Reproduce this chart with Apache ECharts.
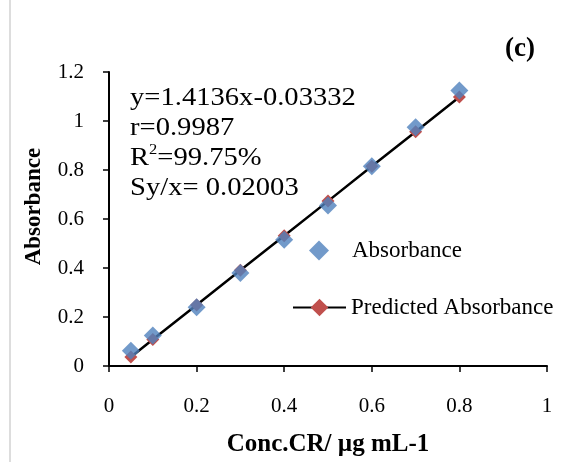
<!DOCTYPE html>
<html><head><meta charset="utf-8">
<script src="https://cdn.jsdelivr.net/npm/echarts@6/dist/echarts.min.js"></script>
<style>html,body{margin:0;padding:0;background:#fff}#c{width:568px;height:462px}</style>
</head><body><div id="c"></div>
<script>
const conc = [0.05, 0.1, 0.2, 0.3, 0.4, 0.5, 0.6, 0.7, 0.8];
const absorbance = [0.062, 0.125, 0.24, 0.38, 0.515, 0.655, 0.815, 0.975, 1.125];
const predicted = [0.037, 0.108, 0.249, 0.391, 0.532, 0.673, 0.815, 0.956, 1.098];
const statsLines = ['y=1.4136x-0.03332', 'r=0.9987', 'R{sup|2}=99.75%', 'Sy/x= 0.02003'];
const FONT = '"Liberation Serif", "DejaVu Serif", serif';

const chart = echarts.init(document.getElementById('c'));
chart.setOption({
  animation: false,
  backgroundColor: '#fff',
  grid: {left: 109, right: 21, top: 72, bottom: 96},
  xAxis: {
    type: 'value', min: 0, max: 1, interval: 0.2,
    name: 'Conc.CR/ µg mL-1', nameLocation: 'middle', nameGap: 66,
    nameTextStyle: {fontFamily: FONT, fontSize: 25, fontWeight: 'bold', color: '#000'},
    axisLine: {show: true, lineStyle: {color: '#000', width: 2}},
    axisTick: {show: true, inside: false, length: 6, lineStyle: {color: '#000', width: 1.5}},
    axisLabel: {fontFamily: FONT, fontSize: 21, color: '#000', margin: 30},
    splitLine: {show: false}
  },
  yAxis: {
    type: 'value', min: 0, max: 1.2, interval: 0.2,
    name: 'Absorbance', nameLocation: 'middle', nameGap: 63, nameRotate: 90,
    nameTextStyle: {fontFamily: FONT, fontSize: 23, fontWeight: 'bold', color: '#000', padding: [0, 0, 0, 25]},
    axisLine: {show: true, lineStyle: {color: '#000', width: 2}},
    axisTick: {show: true, inside: false, length: 6, lineStyle: {color: '#000', width: 1.5}},
    axisLabel: {fontFamily: FONT, fontSize: 21, color: '#000', margin: 25},
    splitLine: {show: false}
  },
  legend: [
    {
      orient: 'vertical', left: 309, top: 239, padding: 0,
      itemWidth: 20, itemHeight: 20,
      textStyle: {fontFamily: FONT, fontSize: 23, color: '#000', padding: [0, 0, 0, 18]},
      data: [{name: 'Absorbance', icon: 'diamond'}]
    },
    {
      orient: 'vertical', left: 292, top: 296, padding: 0,
      itemWidth: 53, itemHeight: 22,
      textStyle: {fontFamily: FONT, fontSize: 23, color: '#000'},
      data: [{name: 'Predicted Absorbance'}]
    }
  ],
  series: [
    {
      name: 'Predicted Absorbance', type: 'line',
      data: conc.map((x, i) => [x, predicted[i]]),
      symbol: 'diamond', symbolSize: 13,
      lineStyle: {color: '#000', width: 2.5},
      itemStyle: {color: '#C0504D'},
      z: 2
    },
    {
      name: 'Absorbance', type: 'scatter',
      data: conc.map((x, i) => [x, absorbance[i]]),
      symbol: 'diamond', symbolSize: 18,
      itemStyle: {color: '#4F81BD'},
      z: 3
    }
  ],
  graphic: [
    {type: 'line', shape: {x1: 10, y1: 0, x2: 10, y2: 462}, style: {stroke: '#bbb', lineWidth: 1}},
    {type: 'text', left: 505, top: 36, style: {text: '(c)', font: 'bold 27px ' + FONT, fill: '#000'}},
    {type: 'text', x: 130, y: 83, scaleX: 1.1, style: {
      text: statsLines.join('\n'), font: '26px ' + FONT, fill: '#000', lineHeight: 30,
      rich: {sup: {fontSize: 15, verticalAlign: 'top', padding: [0, 0, 12, 0], fontFamily: FONT, fill: '#000'}}
    }}
  ]
});
</script></body></html>
